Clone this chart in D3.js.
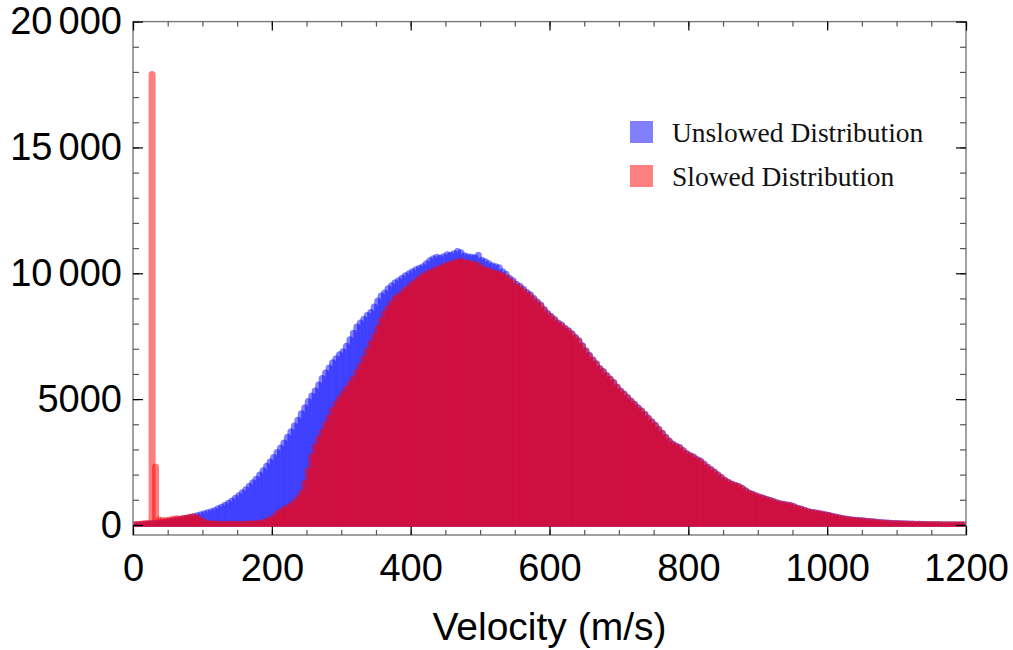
<!DOCTYPE html>
<html lang="en">
<head>
<meta charset="UTF-8">
<title>Velocity distribution</title>
<script src="https://d3js.org/d3.v7.min.js"></script>
<style>
body { margin: 0; background: #fff; }
.tick text { font-family: "Liberation Sans", Arial, sans-serif; fill: #000; }
</style>
</head>
<body>
<script>

var w = 1013;
var h = 650;
var margin = {left: 133, right: 47, top: 21.6, bottom: 115};

// histogram counts, 5 m/s bins starting at 0
var binWidth = 5;

var unslowed = [
    5, 10, 20, 30, 40, 55, 70, 90, 105, 125,
    150, 170, 195, 220, 245, 270, 300, 330, 360, 400,
    440, 480, 520, 570, 640, 700, 780, 860, 950, 1060,
    1160, 1280, 1400, 1540, 1680, 1820, 1980, 2150, 2330, 2500,
    2680, 2880, 3060, 3260, 3480, 3700, 3930, 4160, 4420, 4660,
    4900, 5120, 5320, 5560, 5820, 6040, 6240, 6440, 6600, 6760,
    6880, 7100, 7360, 7620, 7860, 8020, 8160, 8320, 8440, 8660,
    8900, 9100, 9220, 9380, 9500, 9620, 9700, 9800, 9900, 9980,
    10060, 10140, 10200, 10260, 10380, 10500, 10580, 10640, 10600, 10660,
    10740, 10720, 10780, 10860, 10820, 10700, 10660, 10640, 10620, 10720,
    10520, 10460, 10380, 10300, 10260, 10220, 10060, 9960, 9800, 9700,
    9560, 9480, 9360, 9240, 9150, 9000, 8860, 8740, 8560, 8400,
    8280, 8160, 8020, 7940, 7820, 7720, 7600, 7450, 7320, 7120,
    6920, 6740, 6560, 6400, 6220, 6100, 5940, 5800, 5660, 5480,
    5320, 5200, 5060, 4920, 4800, 4660, 4540, 4400, 4240, 4100,
    3960, 3800, 3640, 3480, 3340, 3220, 3140, 3080, 2960, 2840,
    2760, 2700, 2600, 2540, 2420, 2300, 2200, 2100, 1990, 1880,
    1780, 1700, 1630, 1580, 1530, 1460, 1360, 1270, 1220, 1160,
    1110, 1070, 1020, 980, 930, 880, 840, 820, 790, 770,
    720, 660, 630, 580, 530, 500, 480, 460, 430, 400,
    380, 350, 320, 290, 260, 240, 220, 200, 190, 180,
    165, 150, 140, 125, 110, 95, 85, 75, 65, 60,
    55, 50, 45, 40, 36, 32, 28, 25, 22, 20,
    18, 16, 14, 12, 11, 10, 9, 8, 7, 6
];

var slowed = [
    10, 25, 40, 55, 70, 17900, 2300, 200, 180, 170,
    200, 230, 250, 240, 260, 280, 320, 330, 290, 200,
    120, 70, 50, 40, 35, 30, 30, 30, 35, 30,
    30, 30, 35, 40, 45, 55, 70, 100, 150, 210,
    300, 420, 520, 600, 680, 760, 880, 1050, 1250, 1650,
    2150, 2700, 3100, 3400, 3700, 3980, 4250, 4560, 4800, 5000,
    5200, 5400, 5600, 5800, 6050, 6300, 6600, 6900, 7200, 7480,
    7800, 8120, 8400, 8600, 8800, 9000, 9080, 9200, 9330, 9440,
    9560, 9660, 9780, 9880, 9960, 10020, 10080, 10140, 10200, 10260,
    10330, 10360, 10400, 10450, 10480, 10440, 10400, 10380, 10350, 10300,
    10200, 10140, 10080, 10040, 10000, 9960, 9900, 9840, 9720, 9620,
    9480, 9410, 9300, 9180, 9090, 8950, 8810, 8700, 8520, 8360,
    8240, 8120, 7990, 7900, 7790, 7690, 7570, 7420, 7290, 7090,
    6890, 6710, 6530, 6380, 6200, 6080, 5920, 5780, 5640, 5460,
    5300, 5180, 5040, 4900, 4780, 4640, 4520, 4380, 4220, 4080,
    3940, 3780, 3620, 3460, 3320, 3200, 3120, 3060, 2940, 2820,
    2740, 2680, 2580, 2520, 2400, 2280, 2180, 2080, 1980, 1870,
    1770, 1690, 1620, 1570, 1520, 1450, 1350, 1260, 1210, 1150,
    1100, 1060, 1010, 970, 920, 870, 830, 810, 780, 760,
    710, 650, 620, 570, 520, 490, 470, 450, 420, 390,
    370, 340, 310, 280, 250, 230, 210, 190, 180, 170,
    155, 140, 130, 115, 100, 88, 78, 68, 60, 55,
    50, 45, 40, 36, 32, 28, 25, 22, 20, 18,
    16, 14, 12, 11, 10, 9, 8, 7, 6, 5
];

var seriesNames = ["Unslowed Distribution", "Slowed Distribution"];
var seriesColors = ["#0000ff", "#ff0000"];
var swatchColors = ["#8080ff", "#ff8080"];

var xMajor = [0, 200, 400, 600, 800, 1000, 1200];
var xMinor = d3.range(0, 1201, 50);
var yMajor = [0, 5000, 10000, 15000, 20000];
var yMinor = d3.range(0, 20001, 1000);
var xTitle = "Velocity (m/s)";

var x = d3.scaleLinear()
    .domain([0, 1200])
    .range([margin.left, w - margin.right]);

var y = d3.scaleLinear()
    .domain([-400, 20000])
    .range([h - margin.bottom, margin.top]);

var svg = d3.select("body")
    .append("svg")
    .attr("width", w)
    .attr("height", h);

// cut the round caps off just under the zero line
svg.append("clipPath")
    .attr("id", "plotclip")
    .append("rect")
    .attr("x", x(0))
    .attr("y", y(20000))
    .attr("width", x(1200) - x(0))
    .attr("height", y(0) + 1.8 - y(20000));

var barWidth = 7;

[unslowed, slowed].forEach(function (data, s) {
    svg.append("g")
        .attr("clip-path", "url(#plotclip)")
        .selectAll("line")
        .data(data)
        .enter()
        .append("line")
        .attr("x1", function (d, i) { return x(i * binWidth + binWidth / 2); })
        .attr("x2", function (d, i) { return x(i * binWidth + binWidth / 2); })
        .attr("y1", y(0) + 4)
        .attr("y2", function (d) { return y(d); })
        .attr("stroke", seriesColors[s])
        .attr("stroke-opacity", 0.5)
        .attr("stroke-width", barWidth)
        .attr("stroke-linecap", "round");
});

// frame
svg.append("rect")
    .attr("x", x(0))
    .attr("y", y(20000))
    .attr("width", x(1200) - x(0))
    .attr("height", y.range()[0] - y(20000))
    .attr("fill", "none")
    .attr("stroke", "#7a7a7a")
    .attr("stroke-width", 1.4);

function styleTicks(g, color, width) {
    g.select(".domain").remove();
    g.selectAll(".tick line").attr("stroke", color).attr("stroke-width", width);
}

var yBottom = y.range()[0];

// minor ticks on all four sides
svg.append("g").attr("transform", "translate(0," + yBottom + ")")
    .call(d3.axisBottom(x).tickValues(xMinor).tickSize(-5).tickFormat(""))
    .call(styleTicks, "#555", 1.2);
svg.append("g").attr("transform", "translate(0," + y(20000) + ")")
    .call(d3.axisTop(x).tickValues(xMinor).tickSize(-5).tickFormat(""))
    .call(styleTicks, "#555", 1.2);
svg.append("g").attr("transform", "translate(" + x(0) + ",0)")
    .call(d3.axisLeft(y).tickValues(yMinor).tickSize(-6).tickFormat(""))
    .call(styleTicks, "#555", 1.2);
svg.append("g").attr("transform", "translate(" + x(1200) + ",0)")
    .call(d3.axisRight(y).tickValues(yMinor).tickSize(-6).tickFormat(""))
    .call(styleTicks, "#555", 1.2);

// major ticks and labels
var xAxis = svg.append("g").attr("transform", "translate(0," + yBottom + ")")
    .call(d3.axisBottom(x).tickValues(xMajor).tickSize(-9).tickPadding(19).tickFormat(d3.format("d")))
    .call(styleTicks, "#000", 1.2);
xAxis.selectAll(".tick text").attr("font-size", "38px");

svg.append("g").attr("transform", "translate(0," + y(20000) + ")")
    .call(d3.axisTop(x).tickValues(xMajor).tickSize(-9).tickFormat(""))
    .call(styleTicks, "#000", 1.2);

var yAxis = svg.append("g").attr("transform", "translate(" + x(0) + ",0)")
    .call(d3.axisLeft(y).tickValues(yMajor).tickSize(-10).tickPadding(11).tickFormat(d3.format("d")))
    .call(styleTicks, "#000", 1.2);
yAxis.selectAll(".tick text").attr("font-size", "38px");

// 10000 and up get a narrow gap before the last three digits ("20 000")
yAxis.selectAll(".tick text")
    .filter(function (d) { return d >= 10000; })
    .each(function (d) {
        var s = String(d);
        var t = d3.select(this).text("");
        t.append("tspan").text(s.slice(0, s.length - 3));
        t.append("tspan").attr("dx", "0.16em").text(s.slice(-3));
    });

svg.append("g").attr("transform", "translate(" + x(1200) + ",0)")
    .call(d3.axisRight(y).tickValues(yMajor).tickSize(-10).tickFormat(""))
    .call(styleTicks, "#000", 1.2);

svg.append("text")
    .text(xTitle)
    .attr("x", (x(0) + x(1200)) / 2)
    .attr("y", 640)
    .attr("text-anchor", "middle")
    .attr("font-family", "Liberation Sans, Arial, sans-serif")
    .attr("font-size", "39px")
    .style("fill", "black");

// legend
var legend = svg.selectAll(".legend")
    .data(seriesNames)
    .enter()
    .append("g")
    .attr("class", "legend")
    .attr("transform", function (d, i) { return "translate(630," + (121 + i * 44) + ")"; });

legend.append("rect")
    .attr("width", 23)
    .attr("height", 22)
    .attr("fill", function (d, i) { return swatchColors[i]; });

legend.append("text")
    .text(function (d) { return d; })
    .attr("x", 42)
    .attr("y", 21)
    .attr("font-family", "Liberation Serif, Times New Roman, serif")
    .attr("font-size", "27.5px")
    .style("fill", "#111");

</script>
</body>
</html>
